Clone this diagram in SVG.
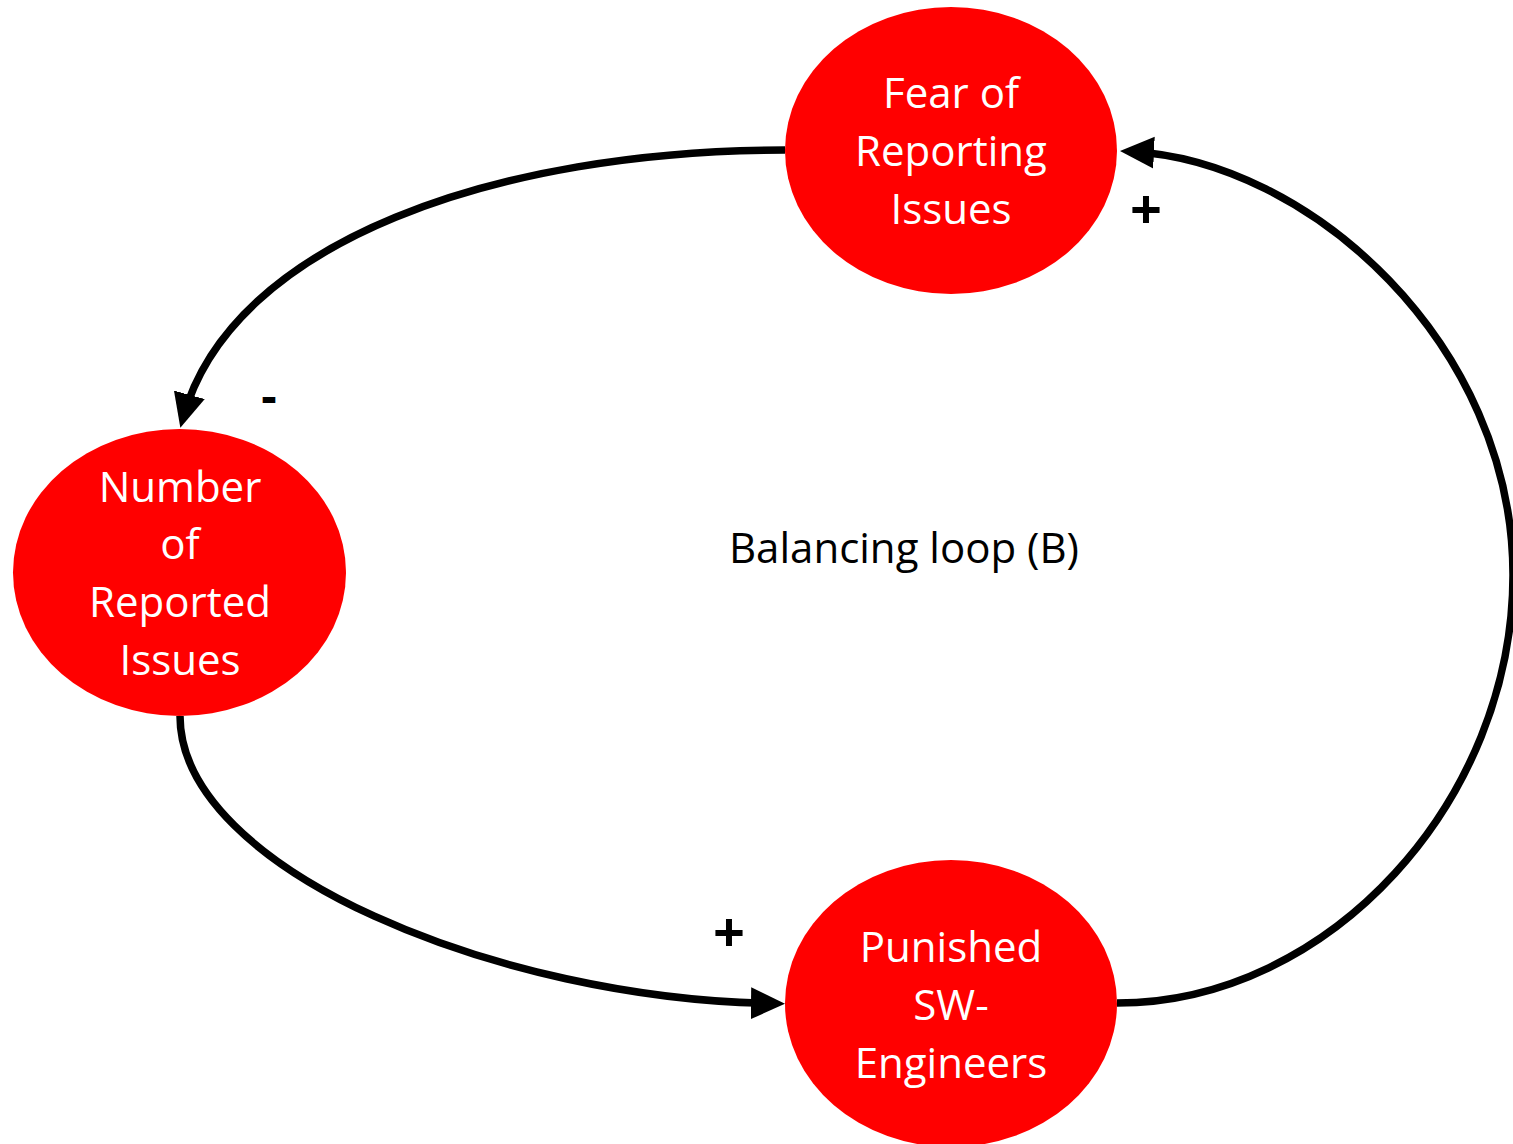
<svg xmlns="http://www.w3.org/2000/svg" width="1513" height="1144" viewBox="0 0 1513 1144">
  <style>
    .node { fill: #ff0000; }
    .label { font-family: "Open Sans", "Liberation Sans", sans-serif; font-size: 42px; fill: #ffffff; text-anchor: middle; }
    .link { fill: none; stroke: #000000; stroke-width: 7.5; }
    .sign { font-family: "Open Sans", "Liberation Sans", sans-serif; font-weight: bold; font-size: 56px; fill: #000000; text-anchor: middle; }
    .minus { font-family: "Open Sans", "Liberation Sans", sans-serif; font-weight: bold; font-size: 48px; fill: #000000; text-anchor: middle; }
    .title { font-family: "Open Sans", "Liberation Sans", sans-serif; font-size: 42px; fill: #000000; text-anchor: middle; }
  </style>
  <defs>
    <marker id="arrow" markerUnits="userSpaceOnUse" markerWidth="36" markerHeight="34" refX="24" refY="16" orient="auto">
      <path d="M0,0 L34,16 L0,32 Z" fill="#000000"/>
    </marker>
  </defs>
  <rect width="1513" height="1144" fill="#ffffff"/>

  <!-- causal links -->
  <g id="connectors">
    <path class="link" d="M785,150 C500,150 232,240 183,418" marker-end="url(#arrow)"/>
    <path class="link" d="M180,716 C180,870 500,1000 775,1003.5" marker-end="url(#arrow)"/>
    <path class="link" d="M1117,1003 C1330,1003 1513,800 1513,575 C1513,345 1310,160 1130,151.5" marker-end="url(#arrow)"/>
  </g>

  <g id="fear">
    <ellipse class="node" cx="951" cy="150.5" rx="166" ry="143.5"/>
    <text class="label" x="951" y="108">Fear of</text>
    <text class="label" x="951" y="166">Reporting</text>
    <text class="label" x="951" y="224">Issues</text>
  </g>

  <g id="reported">
    <ellipse class="node" cx="179.5" cy="572.5" rx="166.5" ry="143.5"/>
    <text class="label" x="180" y="502">Number</text>
    <text class="label" x="180" y="559">of</text>
    <text class="label" x="180" y="617">Reported</text>
    <text class="label" x="180" y="675">Issues</text>
  </g>

  <g id="punished">
    <ellipse class="node" cx="951" cy="1003.5" rx="166" ry="143.5"/>
    <text class="label" x="951" y="962">Punished</text>
    <text class="label" x="951" y="1020">SW-</text>
    <text class="label" x="951" y="1078">Engineers</text>
  </g>

  <!-- polarity marks -->
  <text class="sign" x="1146" y="229">+</text>
  <text class="minus" x="269" y="413">-</text>
  <text class="sign" x="729" y="952">+</text>

  <text class="title" x="904" y="563">Balancing loop (B)</text>
</svg>
